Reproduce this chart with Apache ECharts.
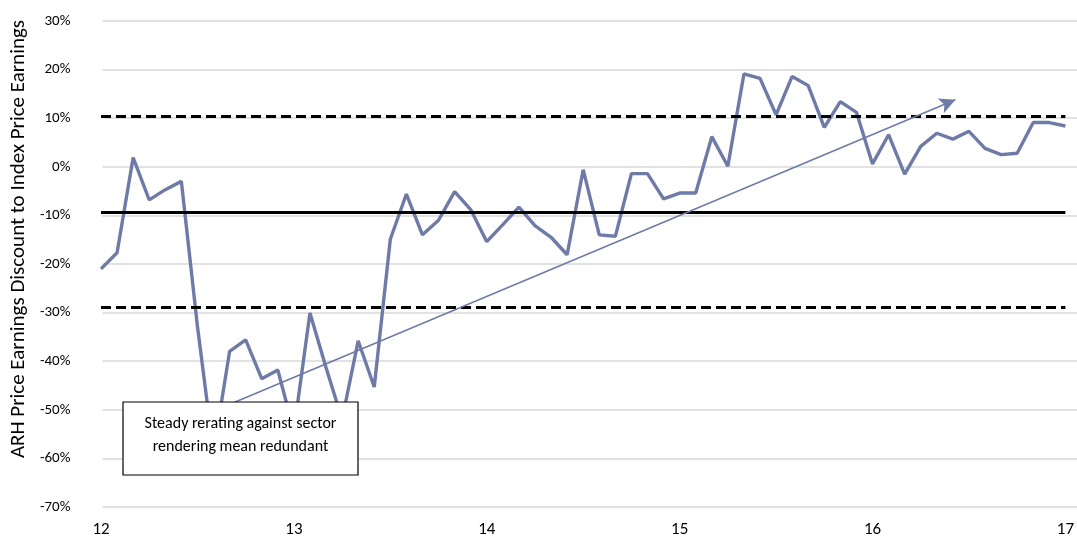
<!DOCTYPE html>
<html>
<head>
<meta charset="utf-8">
<script src="https://cdn.jsdelivr.net/npm/echarts@6/dist/echarts.min.js"></script>
<style>
  html, body { margin: 0; padding: 0; background: #fff; }
  #chart-container { width: 1077px; height: 539px; }
</style>
</head>
<body>
<div id="chart-container"></div>
<script>
// monthly points, 12 -> 17
const xStart = 12;
const xStep = 1 / 12;
const discount = [
    -21.0, -17.7, 1.9, -6.8, -4.7, -3.0, -32.8, -58.7, -38.0, -35.6,
    -43.6, -41.8, -54.3, -30.1, -41.3, -52.0, -35.8, -45.3, -14.9, -5.6,
    -14.0, -11.0, -5.1, -8.8, -15.4, -11.9, -8.3, -12.1, -14.5, -18.1,
    -0.6, -14.0, -14.3, -1.4, -1.4, -6.6, -5.4, -5.4, 6.2, 0.1,
    19.1, 18.2, 10.7, 18.6, 16.7, 8.1, 13.4, 11.2, 0.6, 6.6,
    -1.5, 4.2, 6.9, 5.7, 7.3, 3.8, 2.5, 2.8, 9.1, 9.1,
    8.4
];
// mean and +/- one std dev
const meanLevel = -9.3;
const bandLevels = [10.3, -28.9];
// trend arrow [x, y]
const arrowFrom = [12.6, -50.0];
const arrowTo = [16.43, 13.8];
const noteLines = ['Steady rerating against sector', 'rendering mean redundant'];
const yTicks = { min: -70, max: 30, step: 10 };
const xTicks = { min: 12, max: 17, step: 1 };

const fontFamily = 'Carlito, Calibri, Lato, sans-serif';
const lineColor = '#6E7BA6';

const seriesData = discount.map((v, i) => [xStart + i * xStep, v]);

function hLine(y, type) {
    return [
        { coord: [xTicks.min, y] },
        { coord: [xTicks.max, y], lineStyle: { type: type } }
    ];
}

const option = {
    animation: false,
    grid: [
        // wider grid only for the gridlines + labels
        { left: 92, right: 0, top: 21, bottom: 32 },
        { left: 101, right: 9, top: 21, bottom: 32 }
    ],
    xAxis: [
        {
            gridIndex: 0, type: 'value', min: 0, max: 1, show: false
        },
        {
            gridIndex: 1,
            type: 'value',
            min: xTicks.min,
            max: xTicks.max,
            interval: xTicks.step,
            axisLine: { show: false },
            axisTick: { show: false },
            splitLine: { show: false },
            axisLabel: { color: '#000', fontSize: 17, fontFamily: fontFamily, margin: 14 }
        }
    ],
    yAxis: [
        {
            gridIndex: 0,
            type: 'value',
            min: yTicks.min,
            max: yTicks.max,
            interval: yTicks.step,
            name: 'ARH Price Earnings Discount to Index Price Earnings',
            nameLocation: 'middle',
            nameGap: 55,
            nameTextStyle: { color: '#000', fontSize: 21, fontFamily: fontFamily, padding: [0, 0, 0, 50] },
            axisLine: { show: false },
            axisTick: { show: false },
            splitLine: { lineStyle: { color: '#D9D9D9', width: 1.5 } },
            axisLabel: {
                color: '#000', fontSize: 15, fontFamily: fontFamily, margin: 32,
                formatter: '{value}%'
            }
        },
        {
            gridIndex: 1,
            type: 'value',
            min: yTicks.min,
            max: yTicks.max,
            interval: yTicks.step,
            show: false,
            splitLine: { show: false }
        }
    ],
    series: [
        {
            name: 'ARH',
            type: 'line',
            xAxisIndex: 1,
            yAxisIndex: 1,
            data: seriesData,
            showSymbol: false,
            lineStyle: { color: lineColor, width: 3.4 },
            z: 3,
            markLine: {
                silent: true,
                symbol: 'none',
                label: { show: false },
                lineStyle: { color: '#000', width: 3, type: [10, 5], cap: 'butt' },
                data: [
                    hLine(meanLevel, 'solid'),
                    hLine(bandLevels[0], [10, 5]),
                    hLine(bandLevels[1], [10, 5])
                ]
            }
        },
        {
            // trend arrow drawn above the main line
            name: 'trend',
            type: 'line',
            xAxisIndex: 1,
            yAxisIndex: 1,
            data: [],
            z: 4,
            markLine: {
                silent: true,
                label: { show: false },
                symbol: ['none', 'arrow'],
                symbolSize: [12, 16],
                lineStyle: { color: lineColor, width: 1.6, type: 'solid' },
                data: [[{ coord: arrowFrom }, { coord: arrowTo }]]
            }
        }
    ],
    graphic: [
        {
            type: 'rect',
            z: 100,
            zlevel: 1,
            shape: { x: 123, y: 402, width: 235, height: 73 },
            style: { fill: '#fff', stroke: '#000', lineWidth: 1.2 }
        },
        {
            type: 'text',
            x: 240.5,
            y: 413,
            z: 101,
            zlevel: 1,
            style: {
                text: noteLines.join('\n'), fill: '#000', fontSize: 16,
                lineHeight: 22.5, fontFamily: fontFamily, align: 'center', verticalAlign: 'top'
            }
        }
    ]
};

const myChart = echarts.init(document.getElementById('chart-container'), null, { renderer: 'canvas' });
myChart.setOption(option);
</script>
</body>
</html>
